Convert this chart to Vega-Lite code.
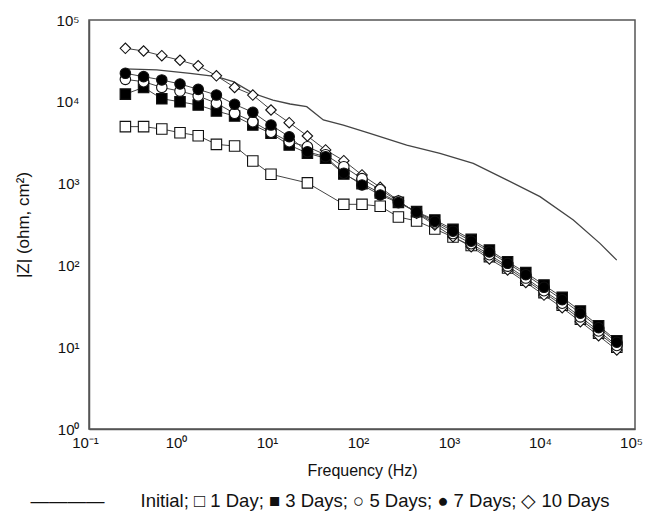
{
  "$schema": "https://vega.github.io/schema/vega-lite/v6.json",
  "autosize": {"type": "none"},
  "width": 546,
  "height": 409,
  "padding": {"left": 89, "top": 20, "right": 11, "bottom": 96},
  "background": "white",
  "config": {
    "font": "Liberation Sans",
    "view": {"stroke": "#555555", "strokeWidth": 1.5},
    "axis": {"domainColor": "#555555", "domainWidth": 1.5, "labelColor": "#111111", "titleColor": "#111111", "labelFontSize": 15, "titleFontSize": 16, "titleFontWeight": "normal", "grid": false, "ticks": false}
  },
  "title": {
    "text": "————\u00a0\u00a0\u00a0\u00a0\u00a0\u00a0\u00a0Initial; □ 1 Day; ■ 3 Days; ○ 5 Days; ● 7 Days; ◇ 10 Days",
    "orient": "bottom",
    "anchor": "middle",
    "fontSize": 18.5,
    "fontWeight": "normal",
    "color": "#111111",
    "offset": 14,
    "dx": -42
  },
  "datasets": {
    "xticks": [
      {"f": 0.1, "major": 1}, {"f": 0.2, "major": 0}, {"f": 0.3, "major": 0}, {"f": 0.4, "major": 0}, {"f": 0.5, "major": 0}, {"f": 0.6, "major": 0}, {"f": 0.7, "major": 0}, {"f": 0.8, "major": 0}, {"f": 0.9, "major": 0},
      {"f": 1, "major": 1}, {"f": 2, "major": 0}, {"f": 3, "major": 0}, {"f": 4, "major": 0}, {"f": 5, "major": 0}, {"f": 6, "major": 0}, {"f": 7, "major": 0}, {"f": 8, "major": 0}, {"f": 9, "major": 0},
      {"f": 10, "major": 1}, {"f": 20, "major": 0}, {"f": 30, "major": 0}, {"f": 40, "major": 0}, {"f": 50, "major": 0}, {"f": 60, "major": 0}, {"f": 70, "major": 0}, {"f": 80, "major": 0}, {"f": 90, "major": 0},
      {"f": 100, "major": 1}, {"f": 200, "major": 0}, {"f": 300, "major": 0}, {"f": 400, "major": 0}, {"f": 500, "major": 0}, {"f": 600, "major": 0}, {"f": 700, "major": 0}, {"f": 800, "major": 0}, {"f": 900, "major": 0},
      {"f": 1000, "major": 1}, {"f": 2000, "major": 0}, {"f": 3000, "major": 0}, {"f": 4000, "major": 0}, {"f": 5000, "major": 0}, {"f": 6000, "major": 0}, {"f": 7000, "major": 0}, {"f": 8000, "major": 0}, {"f": 9000, "major": 0},
      {"f": 10000, "major": 1}, {"f": 20000, "major": 0}, {"f": 30000, "major": 0}, {"f": 40000, "major": 0}, {"f": 50000, "major": 0}, {"f": 60000, "major": 0}, {"f": 70000, "major": 0}, {"f": 80000, "major": 0}, {"f": 90000, "major": 0},
      {"f": 100000, "major": 1}
    ],
    "yticks": [
      {"z": 1, "major": 1}, {"z": 2, "major": 0}, {"z": 3, "major": 0}, {"z": 4, "major": 0}, {"z": 5, "major": 0}, {"z": 6, "major": 0}, {"z": 7, "major": 0}, {"z": 8, "major": 0}, {"z": 9, "major": 0},
      {"z": 10, "major": 1}, {"z": 20, "major": 0}, {"z": 30, "major": 0}, {"z": 40, "major": 0}, {"z": 50, "major": 0}, {"z": 60, "major": 0}, {"z": 70, "major": 0}, {"z": 80, "major": 0}, {"z": 90, "major": 0},
      {"z": 100, "major": 1}, {"z": 200, "major": 0}, {"z": 300, "major": 0}, {"z": 400, "major": 0}, {"z": 500, "major": 0}, {"z": 600, "major": 0}, {"z": 700, "major": 0}, {"z": 800, "major": 0}, {"z": 900, "major": 0},
      {"z": 1000, "major": 1}, {"z": 2000, "major": 0}, {"z": 3000, "major": 0}, {"z": 4000, "major": 0}, {"z": 5000, "major": 0}, {"z": 6000, "major": 0}, {"z": 7000, "major": 0}, {"z": 8000, "major": 0}, {"z": 9000, "major": 0},
      {"z": 10000, "major": 1}, {"z": 20000, "major": 0}, {"z": 30000, "major": 0}, {"z": 40000, "major": 0}, {"z": 50000, "major": 0}, {"z": 60000, "major": 0}, {"z": 70000, "major": 0}, {"z": 80000, "major": 0}, {"z": 90000, "major": 0},
      {"z": 100000, "major": 1}
    ],
    "initial": [
      {"f": 0.244, "z": 25200}, {"f": 0.555, "z": 24500}, {"f": 1.29, "z": 22300}, {"f": 2.53, "z": 20300},
      {"f": 3.85, "z": 17600}, {"f": 6.38, "z": 12700}, {"f": 10.5, "z": 10500}, {"f": 16.2, "z": 9400},
      {"f": 24.7, "z": 8710}, {"f": 37.6, "z": 6000}, {"f": 62.4, "z": 5200}, {"f": 122, "z": 4120},
      {"f": 310, "z": 2960}, {"f": 719, "z": 2340}, {"f": 1670, "z": 1770}, {"f": 3890, "z": 1110},
      {"f": 9040, "z": 692}, {"f": 21000, "z": 359}, {"f": 41200, "z": 186}, {"f": 63000, "z": 116}
    ],
    "series": [
      {"s": "1 Day", "f": 0.251, "z": 4970}, {"s": "1 Day", "f": 0.398, "z": 4970}, {"s": "1 Day", "f": 0.631, "z": 4650},
      {"s": "1 Day", "f": 1, "z": 4190}, {"s": "1 Day", "f": 1.585, "z": 3850}, {"s": "1 Day", "f": 2.512, "z": 3020},
      {"s": "1 Day", "f": 3.981, "z": 2880}, {"s": "1 Day", "f": 6.31, "z": 1890}, {"s": "1 Day", "f": 10, "z": 1300},
      {"s": "1 Day", "f": 25.12, "z": 1020}, {"s": "1 Day", "f": 63.1, "z": 558}, {"s": "1 Day", "f": 100, "z": 558},
      {"s": "1 Day", "f": 158.5, "z": 528}, {"s": "1 Day", "f": 251.2, "z": 391}, {"s": "1 Day", "f": 398.1, "z": 349},
      {"s": "1 Day", "f": 631, "z": 279}, {"s": "1 Day", "f": 1000, "z": 222}, {"s": "1 Day", "f": 1585, "z": 175},
      {"s": "1 Day", "f": 2512, "z": 128}, {"s": "1 Day", "f": 3981, "z": 93}, {"s": "1 Day", "f": 6310, "z": 66},
      {"s": "1 Day", "f": 10000, "z": 46.5}, {"s": "1 Day", "f": 15850, "z": 32.5}, {"s": "1 Day", "f": 25120, "z": 22},
      {"s": "1 Day", "f": 39810, "z": 14.8}, {"s": "1 Day", "f": 63100, "z": 10},

      {"s": "3 Days", "f": 0.251, "z": 12400}, {"s": "3 Days", "f": 0.398, "z": 15000}, {"s": "3 Days", "f": 0.631, "z": 10900},
      {"s": "3 Days", "f": 1, "z": 10000}, {"s": "3 Days", "f": 1.585, "z": 9130}, {"s": "3 Days", "f": 2.512, "z": 7720},
      {"s": "3 Days", "f": 3.981, "z": 6700}, {"s": "3 Days", "f": 6.31, "z": 5200}, {"s": "3 Days", "f": 10, "z": 4120},
      {"s": "3 Days", "f": 15.85, "z": 2960}, {"s": "3 Days", "f": 25.12, "z": 2360}, {"s": "3 Days", "f": 39.81, "z": 2040},
      {"s": "3 Days", "f": 63.1, "z": 1310}, {"s": "3 Days", "f": 100, "z": 1000}, {"s": "3 Days", "f": 158.5, "z": 770},
      {"s": "3 Days", "f": 251.2, "z": 590}, {"s": "3 Days", "f": 398.1, "z": 454}, {"s": "3 Days", "f": 631, "z": 359},
      {"s": "3 Days", "f": 1000, "z": 276}, {"s": "3 Days", "f": 1585, "z": 208}, {"s": "3 Days", "f": 2512, "z": 154},
      {"s": "3 Days", "f": 3981, "z": 111}, {"s": "3 Days", "f": 6310, "z": 81.5}, {"s": "3 Days", "f": 10000, "z": 57.5},
      {"s": "3 Days", "f": 15850, "z": 40.7}, {"s": "3 Days", "f": 25120, "z": 27.7}, {"s": "3 Days", "f": 39810, "z": 18.3},
      {"s": "3 Days", "f": 63100, "z": 12.0},

      {"s": "5 Days", "f": 0.251, "z": 18800}, {"s": "5 Days", "f": 0.398, "z": 17600}, {"s": "5 Days", "f": 0.631, "z": 15000},
      {"s": "5 Days", "f": 1, "z": 13500}, {"s": "5 Days", "f": 1.585, "z": 11800}, {"s": "5 Days", "f": 2.512, "z": 9590},
      {"s": "5 Days", "f": 3.981, "z": 7230}, {"s": "5 Days", "f": 6.31, "z": 5710}, {"s": "5 Days", "f": 10, "z": 4240},
      {"s": "5 Days", "f": 15.85, "z": 3250}, {"s": "5 Days", "f": 25.12, "z": 2820}, {"s": "5 Days", "f": 39.81, "z": 2250},
      {"s": "5 Days", "f": 63.1, "z": 1610}, {"s": "5 Days", "f": 100, "z": 1150}, {"s": "5 Days", "f": 158.5, "z": 840},
      {"s": "5 Days", "f": 251.2, "z": 610}, {"s": "5 Days", "f": 398.1, "z": 440}, {"s": "5 Days", "f": 631, "z": 330},
      {"s": "5 Days", "f": 1000, "z": 245}, {"s": "5 Days", "f": 1585, "z": 184}, {"s": "5 Days", "f": 2512, "z": 135},
      {"s": "5 Days", "f": 3981, "z": 98}, {"s": "5 Days", "f": 6310, "z": 70}, {"s": "5 Days", "f": 10000, "z": 49},
      {"s": "5 Days", "f": 15850, "z": 34.5}, {"s": "5 Days", "f": 25120, "z": 23.5}, {"s": "5 Days", "f": 39810, "z": 15.8},
      {"s": "5 Days", "f": 63100, "z": 10.5},

      {"s": "7 Days", "f": 0.251, "z": 22300}, {"s": "7 Days", "f": 0.398, "z": 20300}, {"s": "7 Days", "f": 0.631, "z": 18500},
      {"s": "7 Days", "f": 1, "z": 16500}, {"s": "7 Days", "f": 1.585, "z": 14200}, {"s": "7 Days", "f": 2.512, "z": 12100},
      {"s": "7 Days", "f": 3.981, "z": 9320}, {"s": "7 Days", "f": 6.31, "z": 7440}, {"s": "7 Days", "f": 10, "z": 5200},
      {"s": "7 Days", "f": 15.85, "z": 3740}, {"s": "7 Days", "f": 25.12, "z": 2450}, {"s": "7 Days", "f": 39.81, "z": 2130},
      {"s": "7 Days", "f": 63.1, "z": 1340}, {"s": "7 Days", "f": 100, "z": 962}, {"s": "7 Days", "f": 158.5, "z": 726},
      {"s": "7 Days", "f": 251.2, "z": 585}, {"s": "7 Days", "f": 398.1, "z": 450}, {"s": "7 Days", "f": 631, "z": 345},
      {"s": "7 Days", "f": 1000, "z": 262}, {"s": "7 Days", "f": 1585, "z": 198}, {"s": "7 Days", "f": 2512, "z": 146},
      {"s": "7 Days", "f": 3981, "z": 106}, {"s": "7 Days", "f": 6310, "z": 77}, {"s": "7 Days", "f": 10000, "z": 54},
      {"s": "7 Days", "f": 15850, "z": 38}, {"s": "7 Days", "f": 25120, "z": 26}, {"s": "7 Days", "f": 39810, "z": 17.3},
      {"s": "7 Days", "f": 63100, "z": 11.5},

      {"s": "10 Days", "f": 0.251, "z": 45100}, {"s": "10 Days", "f": 0.398, "z": 41800}, {"s": "10 Days", "f": 0.631, "z": 36600},
      {"s": "10 Days", "f": 1, "z": 32200}, {"s": "10 Days", "f": 1.585, "z": 27600}, {"s": "10 Days", "f": 2.512, "z": 20800},
      {"s": "10 Days", "f": 3.981, "z": 15000}, {"s": "10 Days", "f": 6.31, "z": 12100}, {"s": "10 Days", "f": 10, "z": 7940},
      {"s": "10 Days", "f": 15.85, "z": 5560}, {"s": "10 Days", "f": 25.12, "z": 3820}, {"s": "10 Days", "f": 39.81, "z": 2580},
      {"s": "10 Days", "f": 63.1, "z": 1905}, {"s": "10 Days", "f": 100, "z": 1275}, {"s": "10 Days", "f": 158.5, "z": 901},
      {"s": "10 Days", "f": 251.2, "z": 618}, {"s": "10 Days", "f": 398.1, "z": 434}, {"s": "10 Days", "f": 631, "z": 312},
      {"s": "10 Days", "f": 1000, "z": 224}, {"s": "10 Days", "f": 1585, "z": 169}, {"s": "10 Days", "f": 2512, "z": 120},
      {"s": "10 Days", "f": 3981, "z": 88}, {"s": "10 Days", "f": 6310, "z": 62}, {"s": "10 Days", "f": 10000, "z": 43.4},
      {"s": "10 Days", "f": 15850, "z": 30.4}, {"s": "10 Days", "f": 25120, "z": 20.5}, {"s": "10 Days", "f": 39810, "z": 13.8},
      {"s": "10 Days", "f": 63100, "z": 9.25}
    ]
  },
  "encoding": {
    "x": {
      "field": "f", "type": "quantitative",
      "scale": {"type": "log", "domain": [0.1, 100000], "nice": false},
      "axis": {
        "title": "Frequency (Hz)",
        "titlePadding": 12,
        "values": [0.1, 1, 10, 100, 1000, 10000, 100000],
        "labelExpr": "datum.value == 0.1 ? '10⁻¹' : datum.value == 1 ? '10⁰' : datum.value == 10 ? '10¹' : datum.value == 100 ? '10²' : datum.value == 1000 ? '10³' : datum.value == 10000 ? '10⁴' : datum.value == 100000 ? '10⁵' : ''",
        "labelPadding": 6,
        "labelOffset": -4,
        "labelFlush": false,
        "labelOverlap": false
      }
    },
    "y": {
      "field": "z", "type": "quantitative",
      "scale": {"type": "log", "domain": [1, 100000], "nice": false},
      "axis": {
        "title": "|Z| (ohm, cm²)",
        "titleFontSize": 17,
        "titlePadding": 23,
        "values": [1, 10, 100, 1000, 10000, 100000],
        "labelExpr": "datum.value == 1 ? '10⁰' : datum.value == 10 ? '10¹' : datum.value == 100 ? '10²' : datum.value == 1000 ? '10³' : datum.value == 10000 ? '10⁴' : datum.value == 100000 ? '10⁵' : ''",
        "labelPadding": 10,
        "labelFlush": false,
        "labelOverlap": false
      }
    }
  },
  "layer": [
    {
      "data": {"name": "xticks"},
      "transform": [{"filter": "datum.major == 1"}],
      "mark": {"type": "rule", "color": "#333333", "strokeWidth": 1.6},
      "encoding": {
        "y": {"datum": 1, "type": "quantitative"},
        "y2": {"datum": 1.288}
      }
    },
    {
      "data": {"name": "xticks"},
      "transform": [{"filter": "datum.major == 0"}],
      "mark": {"type": "rule", "color": "#333333", "strokeWidth": 1.6},
      "encoding": {
        "y": {"datum": 1, "type": "quantitative"},
        "y2": {"datum": 1.184}
      }
    },
    {
      "data": {"name": "yticks"},
      "transform": [{"filter": "datum.major == 1"}],
      "mark": {"type": "rule", "color": "#333333", "strokeWidth": 1.6},
      "encoding": {
        "x": {"datum": 0.1, "type": "quantitative"},
        "x2": {"datum": 0.1256}
      }
    },
    {
      "data": {"name": "yticks"},
      "transform": [{"filter": "datum.major == 0"}],
      "mark": {"type": "rule", "color": "#333333", "strokeWidth": 1.6},
      "encoding": {
        "x": {"datum": 0.1, "type": "quantitative"},
        "x2": {"datum": 0.1164}
      }
    },
    {
      "data": {"name": "initial"},
      "mark": {"type": "line", "color": "#444444", "strokeWidth": 1.3},
      "encoding": {"order": {"field": "f", "type": "quantitative"}}
    },
    {
      "data": {"name": "series"},
      "mark": {"type": "line", "color": "#444444", "strokeWidth": 1},
      "encoding": {
        "detail": {"field": "s"},
        "order": {"field": "f", "type": "quantitative"}
      }
    },
    {
      "data": {"name": "series"},
      "mark": {"type": "point", "filled": false, "stroke": "#111111", "strokeWidth": 1.1, "opacity": 1},
      "encoding": {
        "shape": {"field": "s", "type": "nominal", "legend": null,
          "scale": {"domain": ["1 Day", "3 Days", "5 Days", "7 Days", "10 Days"], "range": ["square", "square", "circle", "circle", "diamond"]}},
        "fill": {"field": "s", "type": "nominal", "legend": null,
          "scale": {"domain": ["1 Day", "3 Days", "5 Days", "7 Days", "10 Days"], "range": ["#ffffff", "#000000", "#ffffff", "#000000", "#ffffff"]}},
        "size": {"field": "s", "type": "nominal", "legend": null,
          "scale": {"domain": ["1 Day", "3 Days", "5 Days", "7 Days", "10 Days"], "range": [110, 110, 120, 120, 140]}},
        "order": {"field": "s", "sort": "ascending"}
      }
    }
  ]
}
